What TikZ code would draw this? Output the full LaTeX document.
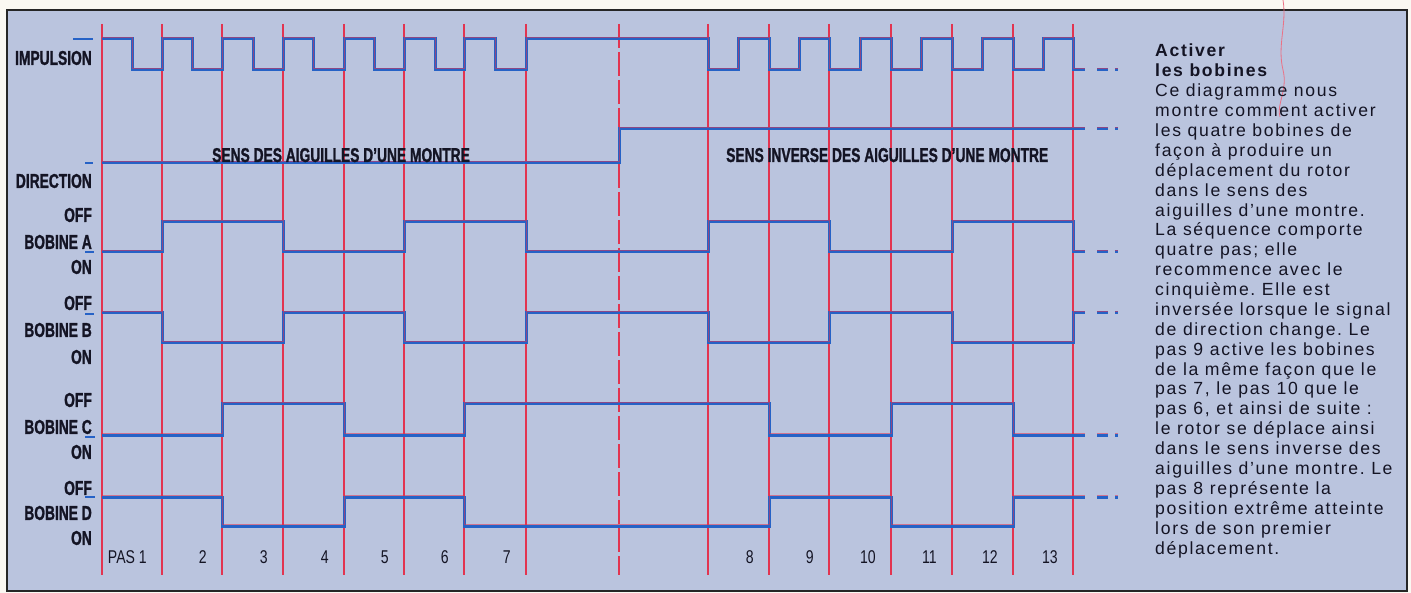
\documentclass[tikz,border=0pt]{standalone}
\usepackage{fontspec}
\setmainfont{Liberation Sans}
\newfontfamily\cond[FakeStretch=0.69,BoldFeatures={FakeBold=1.2}]{Liberation Sans}
\newfontfamily\condr[FakeStretch=0.76]{Liberation Sans}
\newfontfamily\bodyf[LetterSpace=9.5]{Liberation Sans}
\definecolor{paper}{RGB}{250,248,242}
\definecolor{bg}{RGB}{186,196,222}
\definecolor{sig}{RGB}{38,98,198}
\definecolor{gridc}{RGB}{226,52,80}
\definecolor{ink}{RGB}{20,20,36}
\newcommand\sigline[1]{\draw[signal] #1; \draw[sigred] #1;}
\frenchspacing
\begin{document}
\begin{tikzpicture}[x=1pt,y=-1pt,
  signal/.style={sig, line width=3pt},
  sigred/.style={gridc, line width=0.5pt, yshift=1.4pt, opacity=0.55},
  gridline/.style={gridc, line width=1.2pt},
  tick/.style={sig, line width=2.6pt},
  lab/.style={anchor=east, inner sep=0pt, text=ink, font=\cond\bfseries\fontsize{20}{20}\selectfont},
  banner/.style={anchor=base west, inner sep=0pt, text=ink, font=\cond\bfseries\fontsize{20}{20}\selectfont},
  steplab/.style={anchor=base east, inner sep=0pt, text=ink, font=\condr\fontsize{18.5}{18.5}\selectfont},
  bodytxt/.style={anchor=base west, inner sep=0pt, text=ink, font=\bodyf\frenchspacing\fontsize{17.6}{19.88}\selectfont},
  headtxt/.style={anchor=base west, inner sep=0pt, text=ink, font=\bodyf\bfseries\fontsize{17.6}{19.88}\selectfont}]
\useasboundingbox (0,0) rectangle (1411,593);
\fill[paper] (0,0) rectangle (1411,593);
\draw[fill=bg, draw=black!85, line width=2pt] (7,10) rectangle (1407,591);
% stray pink hairline
\draw[gridc!70, line width=0.8pt] (1283,0) .. controls (1287,25) and (1277,45) .. (1283,70) .. controls (1288,90) and (1276,105) .. (1280,117);
% vertical step lines
\foreach \x [count=\k] in {102,162,222,283,344,404,464,526,708,769,829,891,952,1013,1073}
  \draw[gridline] (\x,24) -- (\x,575);
\draw[gridline, dash pattern=on 24pt off 4pt] (619,24) -- (619,575);
% left ticks
\draw[tick] (73,39) -- (93,39);
\draw[tick] (85,163) -- (93,163);
\draw[tick] (85,252) -- (94,252);
\draw[tick] (85,314) -- (94,314);
\draw[tick] (85,437) -- (95,437);
\draw[tick] (85,497) -- (95,497);
% impulse
\sigline{(102,39)--(132,39)--(132,70)--(162,70)--(162,39)--(192,39)--(192,70)--(222,70)--(222,39)--(253,39)--(253,70)--(283,70)--(283,39)--(313,39)--(313,70)--(344,70)--(344,39)--(374,39)--(374,70)--(404,70)--(404,39)--(435,39)--(435,70)--(464,70)--(464,39)--(495,39)--(495,70)--(526,70)--(526,39)--(708,39)--(708,70)--(738,70)--(738,39)--(769,39)--(769,70)--(799,70)--(799,39)--(829,39)--(829,70)--(860,70)--(860,39)--(891,39)--(891,70)--(921,70)--(921,39)--(952,39)--(952,70)--(982,70)--(982,39)--(1013,39)--(1013,70)--(1043,70)--(1043,39)--(1073,39)--(1073,70)--(1085,70) (1097,70)--(1108,70) (1115,70)--(1118,70)}
% direction
\sigline{(102,163)--(619,163)--(619,129)--(1085,129) (1097,129)--(1108,129) (1115,129)--(1118,129)}
% bobine A
\sigline{(102,252)--(162,252)--(162,222)--(283,222)--(283,252)--(404,252)--(404,222)--(526,222)--(526,252)--(708,252)--(708,222)--(829,222)--(829,252)--(952,252)--(952,222)--(1073,222)--(1073,252)--(1085,252) (1097,252)--(1108,252) (1115,252)--(1118,252)}
% bobine B
\sigline{(102,313)--(162,313)--(162,343)--(283,343)--(283,313)--(404,313)--(404,343)--(526,343)--(526,313)--(708,313)--(708,343)--(829,343)--(829,313)--(952,313)--(952,343)--(1073,343)--(1073,313)--(1085,313) (1097,313)--(1108,313) (1115,313)--(1118,313)}
% bobine C
\sigline{(102,435)--(222,435)--(222,404)--(344,404)--(344,435)--(464,435)--(464,404)--(769,404)--(769,435)--(891,435)--(891,404)--(1013,404)--(1013,435)--(1085,435) (1097,435)--(1108,435) (1115,435)--(1118,435)}
% bobine D
\sigline{(102,497)--(222,497)--(222,526)--(344,526)--(344,497)--(464,497)--(464,526)--(769,526)--(769,497)--(891,497)--(891,526)--(1013,526)--(1013,497)--(1085,497) (1097,497)--(1108,497) (1115,497)--(1118,497)}
% left labels
\node[lab] (limp) at (92,58) {IMPULSION};
\node[lab] (ldir) at (92,181) {DIRECTION};
\node[lab] (aoff) at (92,215) {OFF};
\node[lab] (anam) at (92,242) {BOBINE A};
\node[lab] (aon)  at (92,267) {ON};
\node[lab] (boff) at (92,303) {OFF};
\node[lab] (bnam) at (92,330) {BOBINE B};
\node[lab] (bon)  at (92,357) {ON};
\node[lab] (coff) at (92,400) {OFF};
\node[lab] (cnam) at (92,427) {BOBINE C};
\node[lab] (con)  at (92,452) {ON};
\node[lab] (doff) at (92,488) {OFF};
\node[lab] (dnam) at (92,513) {BOBINE D};
\node[lab] (don)  at (92,538) {ON};
% direction banners
\node[banner] (cw)  at (212,162) {SENS DES AIGUILLES D’UNE MONTRE};
\node[banner] (ccw) at (726,162) {SENS INVERSE DES AIGUILLES D’UNE MONTRE};
% step labels
\foreach \x/\t [count=\k] in {162/PAS 1,222/2,283/3,344/4,404/5,464/6,526/7,769/8,829/9,891/10,952/11,1013/12,1073/13}
  \node[steplab] (s\k) at ({\x-15},563) {\t};
% right-hand text
\node[headtxt] (h1) at (1155,57) {Activer};
\node[headtxt] (h2) at (1155,76.88) {les bobines};
\foreach \t [count=\i from 2] in {{Ce diagramme nous},{montre comment activer},{les quatre bobines de},{façon à produire un},{déplacement du rotor},{dans le sens des},{aiguilles d’une montre.},{La séquence comporte},{quatre pas; elle},{recommence avec le},{cinquième. Elle est},{inversée lorsque le signal},{de direction change. Le},{pas 9 active les bobines},{de la même façon que le},{pas 7, le pas 10 que le},{pas 6, et ainsi de suite :},{le rotor se déplace ainsi},{dans le sens inverse des},{aiguilles d’une montre. Le},{pas 8 représente la},{position extrême atteinte},{lors de son premier},{déplacement.}}
  \node[bodytxt] (t\i) at (1155,{57+19.88*\i}) {\t};
\end{tikzpicture}
\end{document}
